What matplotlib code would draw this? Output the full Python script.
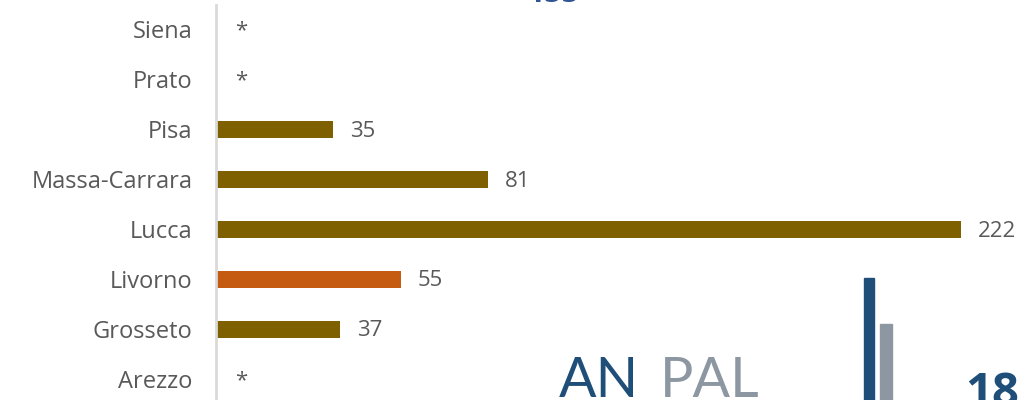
import matplotlib.pyplot as plt
import numpy as np

# province data, bottom to top as drawn
province = ["Arezzo", "Grosseto", "Livorno", "Lucca", "Massa-Carrara", "Pisa", "Prato", "Siena"]
valori = [None, 37, 55, 222, 81, 35, None, None]   # None = dato non disponibile (*)
evidenzia = "Livorno"

col_bar = "#7F6000"
col_hl = "#C55A11"
col_txt = "#595959"
blu = "#1F4E79"
grigio = "#8C97A1"

fig = plt.figure(figsize=(10.24, 4.0), dpi=100)
ax = fig.add_axes([216/1024, 0, (1024-216)/1024, 395/400])

y = np.arange(len(province))
w = [v if v is not None else 0 for v in valori]
colori = [col_hl if p == evidenzia else col_bar for p in province]
ax.barh(y, w, height=0.34, color=colori)

for yi, v in zip(y, valori):
    lab = "*" if v is None else str(v)
    xv = 0 if v is None else v
    ax.annotate(lab, (xv, yi - 0.04), xytext=(12 if v is not None else 14, 0), textcoords="offset points",
                ha="left", va="center", fontsize=16, color=col_txt, family="Open Sans")

ax.set_yticks(y)
ax.set_yticklabels(province, fontsize=17, color=col_txt, family="Open Sans")
ax.tick_params(axis="y", length=0, pad=17)
ax.set_xlim(0, (1024-216)/3.356)
ax.set_ylim(-0.42, 7.48)
ax.set_xticks([])
for s in ["top", "right", "bottom"]:
    ax.spines[s].set_visible(False)
ax.spines["left"].set_color("#D9D9D9")
ax.spines["left"].set_linewidth(2)

# titolo tagliato in alto
fig.text(553/1024, 1 - 2/400, "155", ha="center", va="baseline", fontsize=22, color="#2F5597",
         fontweight="bold", family="Open Sans")

# logo ANPAL e numero pagina
fig.text(559/1024, 3/400, "AN", ha="left", va="baseline", fontsize=40, color=blu,
         family="Lato")
fig.text(660/1024, 3/400, "PAL", ha="left", va="baseline", fontsize=40, color=grigio,
         family="Lato")
fig.patches.append(plt.Rectangle((864/1024, 0), 10/1024, 122/400, transform=fig.transFigure,
                                 color=blu, zorder=5))
fig.patches.append(plt.Rectangle((880/1024, 0), 12/1024, 76/400, transform=fig.transFigure,
                                 color=grigio, zorder=5))
fig.text(992/1024, -6/400, "18", ha="center", va="baseline", fontsize=34, color=blu,
         fontweight="bold", family="Open Sans")

fig.savefig("out.png", dpi=100)
